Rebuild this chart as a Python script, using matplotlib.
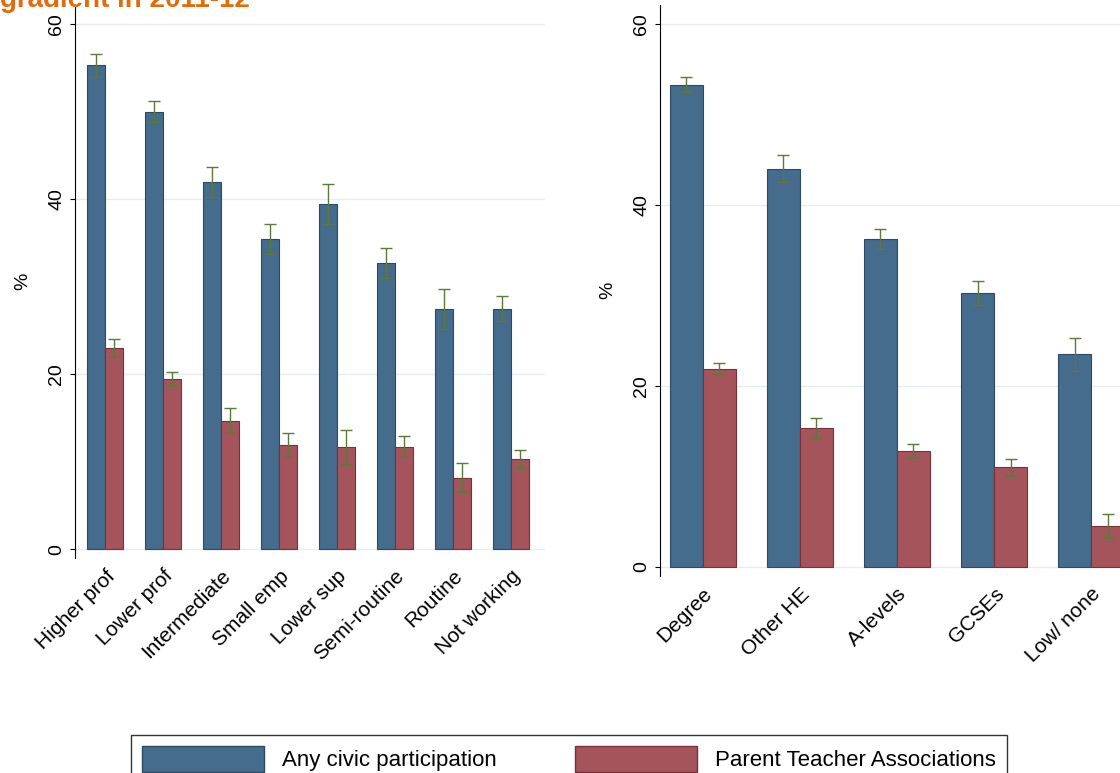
import matplotlib.pyplot as plt
import numpy as np

plt.rcParams["font.family"] = ["Liberation Sans", "DejaVu Sans"]

class_labels = ["Higher prof", "Lower prof", "Intermediate", "Small emp", "Lower sup",
                "Semi-routine", "Routine", "Not working"]
class_any = [55.3, 50.0, 42.0, 35.5, 39.5, 32.7, 27.5, 27.5]
class_any_err = [1.3, 1.2, 1.7, 1.7, 2.3, 1.7, 2.3, 1.4]
class_pta = [23.0, 19.5, 14.7, 11.9, 11.7, 11.7, 8.2, 10.3]
class_pta_err = [1.0, 0.8, 1.4, 1.4, 1.9, 1.2, 1.7, 1.0]

edu_labels = ["Degree", "Other HE", "A-levels", "GCSEs", "Low/ none"]
edu_any = [53.3, 44.0, 36.2, 30.3, 23.5]
edu_any_err = [0.8, 1.5, 1.1, 1.3, 1.8]
edu_pta = [21.9, 15.4, 12.8, 11.0, 4.5]
edu_pta_err = [0.6, 1.1, 0.8, 0.9, 1.3]

blue = "#456b8d"
red = "#a5545c"
errc = "#5b7a3a"

fig = plt.figure(figsize=(11.2, 7.73), dpi=100)
ax1 = fig.add_axes([75 / 1120, 1 - 558 / 773, 470 / 1120, 553 / 773])
ax2 = fig.add_axes([660 / 1120, 1 - 576 / 773, 470 / 1120, 571 / 773])


def draw(ax, labels, a, ae, p, pe, w, xlim, ylim):
    x = np.arange(len(labels))
    ax.bar(x - w / 2, a, w, color=blue, edgecolor="#2e4a63", linewidth=0.8)
    ax.bar(x + w / 2, p, w, color=red, edgecolor="#7a3038", linewidth=0.8)
    ax.errorbar(x - w / 2, a, yerr=ae, fmt="none", ecolor=errc, capsize=4, lw=1)
    ax.errorbar(x + w / 2, p, yerr=pe, fmt="none", ecolor=errc, capsize=4, lw=1)
    ax.set_xlim(*xlim)
    ax.set_ylim(*ylim)
    ax.set_yticks([0, 20, 40, 60], labels=["0", "20", "40", "60"], rotation=90, va="center")
    ax.yaxis.grid(True, color="#e6ecef", lw=1)
    ax.set_axisbelow(True)
    ax.set_xticks(x, labels=labels, rotation=45, ha="right", rotation_mode="anchor", fontsize=15)
    ax.tick_params(axis="x", length=0, pad=6)
    ax.tick_params(axis="y", labelsize=14)
    for s in ["top", "right", "bottom"]:
        ax.spines[s].set_visible(False)
    ax.set_ylabel("%", fontsize=14, labelpad=12)


draw(ax1, class_labels, class_any, class_any_err, class_pta, class_pta_err,
     0.31, (-0.52, 7.59), (-1, 62.2))
draw(ax2, edu_labels, edu_any, edu_any_err, edu_pta, edu_pta_err,
     0.34, (-0.44, 4.4), (-1, 62.1))

fig.text(0.0, 1.0, "gradient in 2011-12", color="#e36c0a", fontsize=20,
         fontweight="bold", va="center", ha="left")

handles = [plt.Rectangle((0, 0), 1, 1, facecolor=blue, edgecolor="#2e4a63"),
           plt.Rectangle((0, 0), 1, 1, facecolor=red, edgecolor="#7a3038")]
fig.legend(handles, ["Any civic participation", "Parent Teacher Associations"],
           ncol=2, loc="upper left", bbox_to_anchor=(120 / 1120, 1 - 724 / 773),
           frameon=True, fancybox=False, edgecolor="black", fontsize=16,
           handlelength=5.5, handleheight=1.4, columnspacing=3.5, borderpad=0.5)

fig.savefig("out.png", dpi=100)
